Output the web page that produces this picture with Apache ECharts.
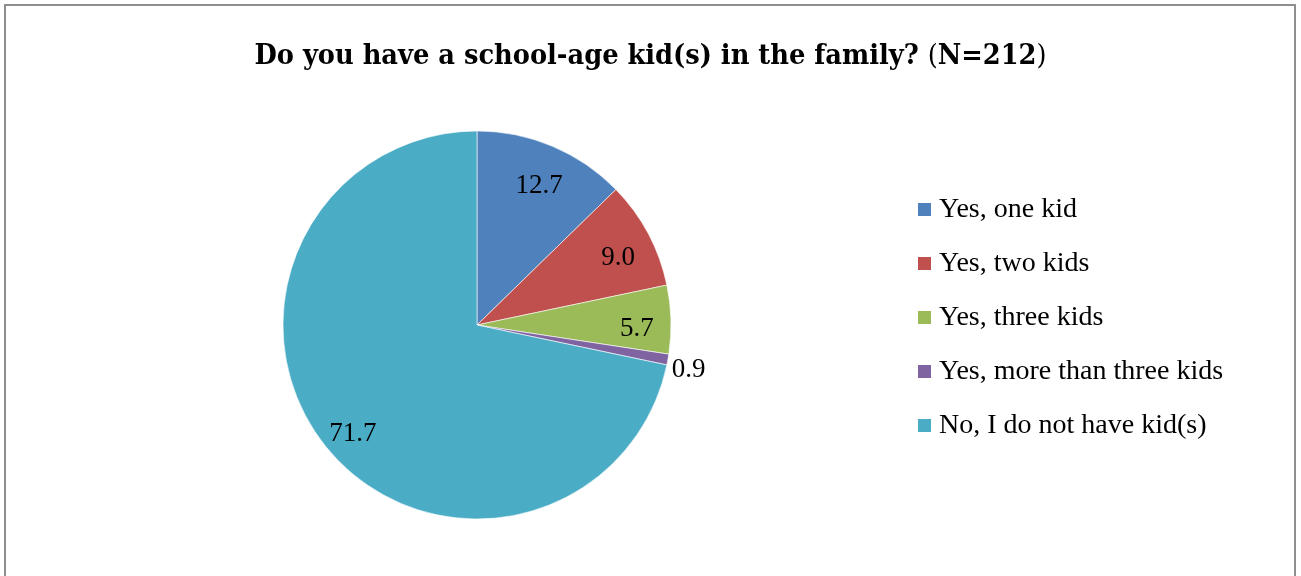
<!DOCTYPE html>
<html><head><meta charset="utf-8">
<script src="https://cdn.jsdelivr.net/npm/echarts@6/dist/echarts.min.js"></script>
<style>
html,body{margin:0;padding:0;background:#fff;}
#wrap{position:relative;width:1301px;height:576px;overflow:hidden;}
#frame{position:absolute;left:4px;top:4px;width:1292px;height:620px;border:2px solid #8e8e8e;box-sizing:border-box;pointer-events:none;z-index:2;}
#chart{position:absolute;left:0;top:0;width:1301px;height:576px;}
</style></head>
<body><div id="wrap"><div id="chart"></div><div id="frame"></div></div>
<script>
const categories = ['Yes, one kid', 'Yes, two kids', 'Yes, three kids', 'Yes, more than three kids', 'No, I do not have kid(s)'];
const values = [12.7, 9.0, 5.7, 0.9, 71.7];
const colors = ['#4F81BD', '#C0504D', '#9BBB59', '#8064A2', '#4BACC6'];
const titleMain = 'Do you have a school-age kid(s) in the family? ';
const titleN = 'N=212';

const FONT = '"Liberation Serif", serif';
const TFONT = '"DejaVu Serif Condensed", "DejaVu Serif", serif';
const chart = echarts.init(document.getElementById('chart'), null, {renderer: 'canvas'});
const pieData = categories.map((c, i) => ({name: c, value: values[i], itemStyle: {color: colors[i]}}));
const labelData = categories.map((c, i) => ({
  name: c, value: values[i],
  label: {show: values[i] >= 2}
}));
chart.setOption({
  animation: false,
  backgroundColor: '#ffffff',
  title: {
    text: '{b|' + titleMain + '}{p|(}{b|' + titleN + '}{p|)}',
    left: 'center', top: 37,
    textStyle: {
      rich: {
        b: {fontFamily: TFONT, fontWeight: 'bold', fontSize: 28.6, color: '#000'},
        p: {fontFamily: TFONT, fontWeight: 'normal', fontSize: 28.6, color: '#000'}
      }
    }
  },
  legend: {
    orient: 'vertical', left: 911, top: 187,
    icon: 'rect', itemWidth: 15, itemHeight: 15, itemGap: 19,
    data: categories,
    textStyle: {fontFamily: FONT, fontSize: 28, color: '#000', lineHeight: 30, padding: [5, 0, 0, 2]}
  },
  series: [
    {
      type: 'pie', center: [477, 325], radius: [0, 194],
      startAngle: 90, clockwise: true, silent: true,
      data: pieData.map((d, i) => Object.assign({}, d, i === 3 ? {
        label: {show: true, position: 'outside', formatter: p => p.value.toFixed(1),
          fontFamily: FONT, fontSize: 27, color: '#000', distanceToLabelLine: 0},
        labelLine: {show: false, length: 4, length2: 0}
      } : {label: {show: false}, labelLine: {show: false}})),
      labelLayout: {dy: 10},
      itemStyle: {borderColor: '#fff', borderWidth: 0.6}
    },
    {
      type: 'pie', center: [477, 325], radius: [147, 167],
      startAngle: 90, clockwise: true, silent: true,
      legendHoverLink: false,
      data: labelData,
      itemStyle: {color: 'rgba(0,0,0,0)'},
      label: {position: 'inside', formatter: p => p.value.toFixed(1),
        fontFamily: FONT, fontSize: 27, color: '#000'},
      labelLayout: {dy: 8},
      labelLine: {show: false}
    }
  ]
});
</script></body></html>
